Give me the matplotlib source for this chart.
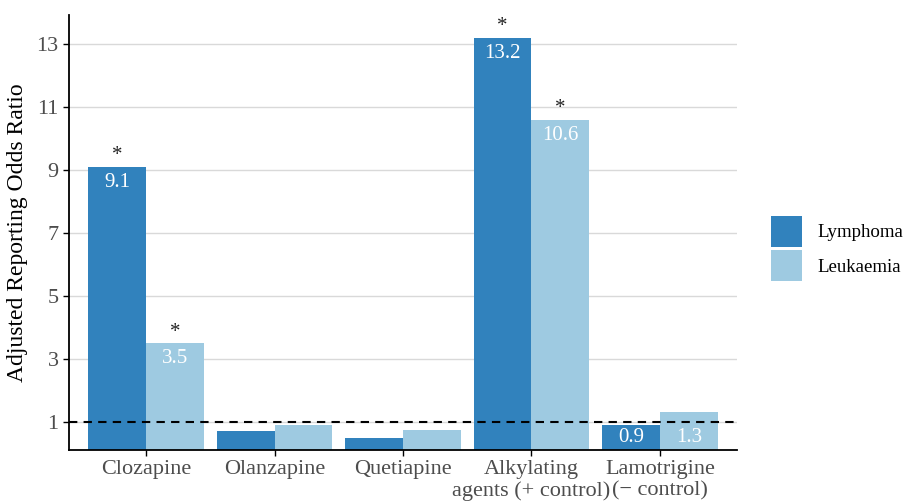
import matplotlib
matplotlib.use("Agg")
import matplotlib.pyplot as plt
import numpy as np

categories = ["Clozapine", "Olanzapine", "Quetiapine", "Alkylating\nagents (+ control)", "Lamotrigine\n(\u2212 control)"]
lymphoma = [9.1, 0.71, 0.47, 13.2, 0.9]
leukaemia = [3.5, 0.89, 0.75, 10.6, 1.3]
lymph_labels = ["9.1", "", "", "13.2", "0.9"]
leuk_labels = ["3.5", "", "", "10.6", "1.3"]
lymph_sig = [True, False, False, True, False]
leuk_sig = [True, False, False, True, False]
yticks = [1, 3, 5, 7, 9, 11, 13]

plt.rcParams['font.family'] = ['Liberation Serif', 'DejaVu Serif']

fig = plt.figure(figsize=(9.08, 5.01), dpi=100)
ax = fig.add_axes([0.076, 0.1018, 0.7357, 0.8682])

c1 = "#3182bd"
c2 = "#9ecae1"
x = np.arange(len(categories))
w = 0.45
b1 = ax.bar(x - w/2, lymphoma, width=w, color=c1, label="Lymphoma", zorder=2)
b2 = ax.bar(x + w/2, leukaemia, width=w, color=c2, label="Leukaemia", zorder=2)

def annotate(xs, vals, labels, sigs):
    for xi, v, lab, sig in zip(xs, vals, labels, sigs):
        if lab:
            yy = v - 0.5 if v > 2 else 0.5
            ax.text(xi, yy, lab, ha="center", va="center", color="white", fontsize=15, zorder=3)
        if sig:
            ax.annotate("*", (xi, v), xytext=(0, 1), textcoords="offset points",
                        ha="center", va="bottom", fontsize=15, color="#222222")

annotate(x - w/2, lymphoma, lymph_labels, lymph_sig)
annotate(x + w/2, leukaemia, leuk_labels, leuk_sig)

ax.axhline(1, color="black", linestyle=(0, (4, 3)), linewidth=1.5, zorder=4)

ax.set_xlim(-0.6, len(categories) - 0.4)
ax.set_ylim(0.1, 13.92)
ax.set_yticks(yticks)
ax.set_xticks(x)
ax.set_xticklabels(categories, fontsize=16, color="#4d4d4d", linespacing=1.15)
ax.tick_params(axis="y", labelsize=16, labelcolor="#4d4d4d", length=4, width=1)
ax.tick_params(axis="x", length=4, width=1, pad=3)
ax.yaxis.grid(True, color="#d9d9d9", linewidth=1, zorder=0)
ax.set_axisbelow(True)
for s in ["top", "right"]:
    ax.spines[s].set_visible(False)
for s in ["left", "bottom"]:
    ax.spines[s].set_linewidth(1.3)
ax.set_ylabel("Adjusted Reporting Odds Ratio", fontsize=17, labelpad=6)

leg = fig.legend(handles=[b1, b2], labels=["Lymphoma", "Leukaemia"], loc="center left",
                 bbox_to_anchor=(0.849, 0.504), frameon=False, fontsize=13.6,
                 handlelength=1.64, handleheight=2.15, handletextpad=0.8, labelspacing=0.2,
                 borderpad=0, borderaxespad=0)

fig.savefig("out.png", dpi=100)
